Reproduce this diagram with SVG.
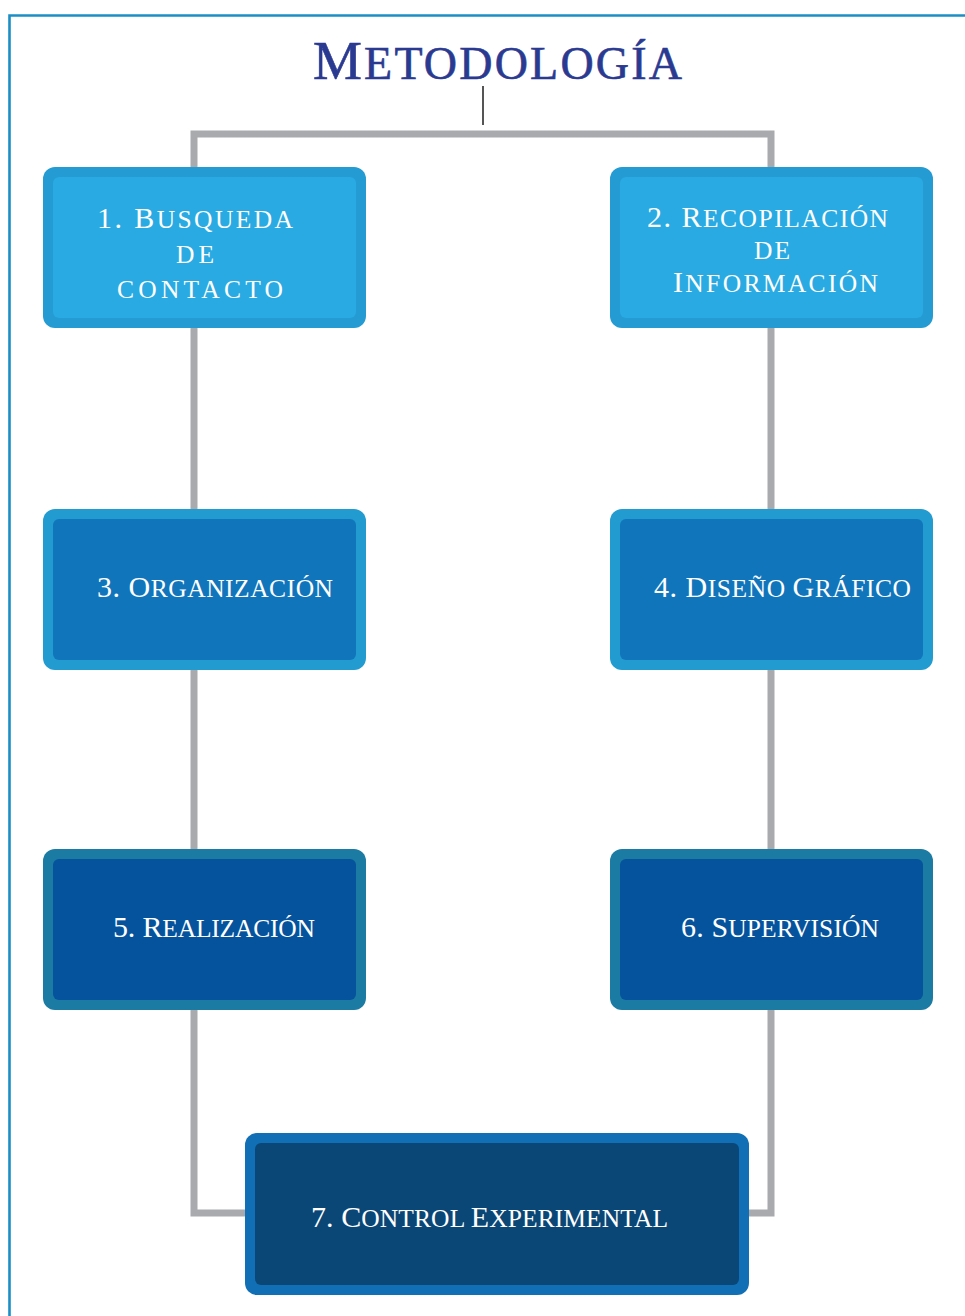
<svg xmlns="http://www.w3.org/2000/svg" width="965" height="1316" viewBox="0 0 965 1316">
  <style>
    .lbl { font-family: "Liberation Serif", "DejaVu Serif", serif; fill: #ffffff; }
    .cap { font-size: 30px; }
    .sc { font-size: 25.5px; }
    .title { font-family: "Liberation Serif", "DejaVu Serif", serif; fill: #2b3a91; stroke: #2b3a91; stroke-width: 0.6; }
    .wire { fill: none; stroke: #a8aaad; stroke-width: 7; stroke-linejoin: miter; }
    .t1 .outer { fill: #249bd2; } .t1 .inner { fill: #29aae2; }
    .t2 .outer { fill: #229bd0; } .t2 .inner { fill: #1175bc; }
    .t3 .outer { fill: #1b7ba3; } .t3 .inner { fill: #05539d; }
    .t4 .outer { fill: #116fb5; } .t4 .inner { fill: #0b4776; }
  </style>
  <rect width="965" height="1316" fill="#ffffff"/>
  <!-- page frame -->
  <path d="M9.5 1316 V15.5 H965" fill="none" stroke="#1b8ec5" stroke-width="2.6"/>

  <!-- title -->
  <g id="title">
    <text class="title" x="313" y="79" textLength="369" lengthAdjust="spacing"><tspan font-size="55">M</tspan><tspan font-size="46">ETODOLOGÍA</tspan></text>
  </g>

  <!-- connectors -->
  <g id="connectors">
    <line x1="483" y1="86" x2="483" y2="125" stroke="#555555" stroke-width="2"/>
    <path class="wire" d="M250 1213 H194 V134 H771 V1213 H744"/>
  </g>

  <!-- 1 -->
  <g id="node1" class="t1">
    <rect class="outer" x="43" y="167" width="323" height="161" rx="12"/>
    <rect class="inner" x="53" y="177" width="303" height="141" rx="6"/>
    <text class="lbl" x="97" y="228" textLength="196" lengthAdjust="spacing"><tspan class="cap">1. B</tspan><tspan class="sc">USQUEDA</tspan></text>
    <text class="lbl sc" x="176" y="263" textLength="38" lengthAdjust="spacing">DE</text>
    <text class="lbl sc" x="117" y="298" textLength="166" lengthAdjust="spacing">CONTACTO</text>
  </g>

  <!-- 2 -->
  <g id="node2" class="t1">
    <rect class="outer" x="610" y="167" width="323" height="161" rx="12"/>
    <rect class="inner" x="620" y="177" width="303" height="141" rx="6"/>
    <text class="lbl" x="647" y="227" textLength="241" lengthAdjust="spacing"><tspan class="cap">2. R</tspan><tspan class="sc">ECOPILACIÓN</tspan></text>
    <text class="lbl sc" x="754" y="259" textLength="36" lengthAdjust="spacing">DE</text>
    <text class="lbl" x="673" y="292" textLength="205" lengthAdjust="spacing"><tspan class="cap">I</tspan><tspan class="sc">NFORMACIÓN</tspan></text>
  </g>

  <!-- 3 -->
  <g id="node3" class="t2">
    <rect class="outer" x="43" y="509" width="323" height="161" rx="12"/>
    <rect class="inner" x="53" y="519" width="303" height="141" rx="6"/>
    <text class="lbl" x="97" y="597" textLength="236" lengthAdjust="spacing"><tspan class="cap">3. O</tspan><tspan class="sc">RGANIZACIÓN</tspan></text>
  </g>

  <!-- 4 -->
  <g id="node4" class="t2">
    <rect class="outer" x="610" y="509" width="323" height="161" rx="12"/>
    <rect class="inner" x="620" y="519" width="303" height="141" rx="6"/>
    <text class="lbl" x="654" y="597" textLength="257" lengthAdjust="spacing"><tspan class="cap">4. D</tspan><tspan class="sc">ISEÑO </tspan><tspan class="cap">G</tspan><tspan class="sc">RÁFICO</tspan></text>
  </g>

  <!-- 5 -->
  <g id="node5" class="t3">
    <rect class="outer" x="43" y="849" width="323" height="161" rx="12"/>
    <rect class="inner" x="53" y="859" width="303" height="141" rx="6"/>
    <text class="lbl" x="113" y="937" textLength="202" lengthAdjust="spacing"><tspan class="cap">5. R</tspan><tspan class="sc">EALIZACIÓN</tspan></text>
  </g>

  <!-- 6 -->
  <g id="node6" class="t3">
    <rect class="outer" x="610" y="849" width="323" height="161" rx="12"/>
    <rect class="inner" x="620" y="859" width="303" height="141" rx="6"/>
    <text class="lbl" x="681" y="937" textLength="198" lengthAdjust="spacing"><tspan class="cap">6. S</tspan><tspan class="sc">UPERVISIÓN</tspan></text>
  </g>

  <!-- 7 -->
  <g id="node7" class="t4">
    <rect class="outer" x="245" y="1133" width="504" height="162" rx="12"/>
    <rect class="inner" x="255" y="1143" width="484" height="142" rx="6"/>
    <text class="lbl" x="311" y="1227" textLength="357" lengthAdjust="spacing"><tspan class="cap">7. C</tspan><tspan class="sc">ONTROL </tspan><tspan class="cap">E</tspan><tspan class="sc">XPERIMENTAL</tspan></text>
  </g>
</svg>
